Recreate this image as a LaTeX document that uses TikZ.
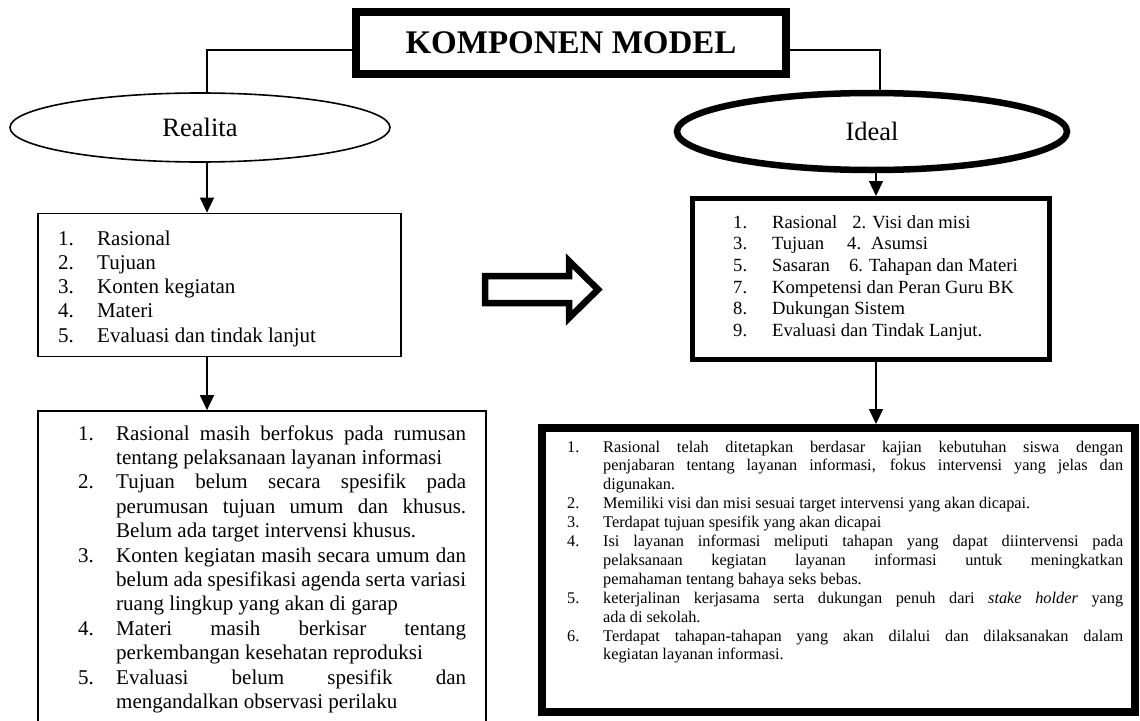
\documentclass[tikz,border=0pt]{standalone}
\usepackage{fontspec}
\setmainfont{Liberation Serif}
\usetikzlibrary{shapes.geometric,arrows.meta,calc}
\newcommand\numitem[2]{\par\hangindent=#1\hangafter=1\noindent\makebox[#1][l]{#2}\ignorespaces}
\newcommand\jsetup{\parindent=0pt\tolerance=10000\hbadness=10000\hyphenpenalty=10000\exhyphenpenalty=10000}
\begin{document}
\begin{tikzpicture}[x=1pt,y=-1pt,
  titlebox/.style={draw, line width=8pt, rectangle, minimum width=430pt, minimum height=62pt, inner sep=0pt, font=\fontsize{33}{40}\selectfont\bfseries},
  ellthin/.style={draw, ellipse, line width=1.6pt, inner sep=0pt, font=\fontsize{26.5}{32}\selectfont},
  ellthick/.style={draw, ellipse, line width=6.5pt, inner sep=0pt, font=\fontsize{26.5}{32}\selectfont},
  boxthin/.style={draw, rectangle, line width=1.8pt, inner sep=0pt},
  boxthick/.style={draw, rectangle, line width=5pt, inner sep=0pt},
  boxheavy/.style={draw, rectangle, line width=8pt, inner sep=0pt},
  conn/.style={line width=1.5pt},
  arr/.style={line width=1.5pt, -{Triangle[width=14pt,length=15pt]}},
  txt/.style={inner sep=0pt, anchor=base west},
  bigarrow/.style={draw, line width=6.5pt, fill=white, miter limit=10, line join=miter}
]
\path[use as bounding box] (0,0) rectangle (1140,720);
\clip (0,0) rectangle (1140,720);

% main nodes
\node[titlebox] (title) at (571,43) {KOMPONEN MODEL};
\node[ellthin, minimum width=380pt, minimum height=69pt] (realita) at (200,127.5) {\raisebox{-2.5pt}{Realita}};
\node[ellthick, minimum width=390pt, minimum height=77pt] (ideal) at (872,131.5) {\raisebox{-2.5pt}{Ideal}};

\node[boxthin, minimum width=363pt, minimum height=143pt] (lbox1) at (219.5,285) {};
\node[boxthick, minimum width=357pt, minimum height=161pt] (rbox1) at (871,279) {};
\node[boxthin, minimum width=448pt, minimum height=340pt] (lbox2) at (262,581) {};
\node[boxheavy, minimum width=593pt, minimum height=284pt] (rbox2) at (838.5,570) {};

% connectors
\coordinate (jl) at (207,50);
\coordinate (jr) at (880,50);
\coordinate (cl) at (207,0);
\coordinate (cr) at (876,0);
\draw[conn] (title.west |- jl) -- (jl) -- (jl |- realita.north);
\draw[conn] (title.east |- jr) -- (jr) -- (jr |- ideal.north);
\draw[arr] (cl |- realita.south) -- (cl |- lbox1.north);
\draw[arr] (cl |- lbox1.south) -- (cl |- lbox2.north);
\draw[arr] (cr |- ideal.south) -- (cr |- rbox1.north);
\draw[arr] (cr |- rbox1.south) -- (cr |- rbox2.north);

% big hollow arrow
\draw[bigarrow] (485,276) -- (569,276) -- (569,261) -- (598,289.5) -- (569,318) -- (569,303) -- (485,303) -- cycle;

% texts
\node[txt] (l1txt) at (58,245) {\parbox[t]{340pt}{\fontsize{21}{24.3}\selectfont
\makebox[39pt][l]{1.}Rasional\\
\makebox[39pt][l]{2.}Tujuan\\
\makebox[39pt][l]{3.}Konten kegiatan\\
\makebox[39pt][l]{4.}Materi\\
\makebox[39pt][l]{5.}Evaluasi dan tindak lanjut}};

\node[txt] (r1txt) at (733,228) {\parbox[t]{310pt}{\fontsize{18.6}{21.7}\selectfont
\makebox[39pt][l]{1.}Rasional\hspace{15pt}2. Visi dan misi\\
\makebox[39pt][l]{3.}Tujuan\hspace{23pt}4.\hspace{10pt}Asumsi\\
\makebox[39pt][l]{5.}Sasaran\hspace{19pt}6. Tahapan dan Materi\\
\makebox[39pt][l]{7.}Kompetensi dan Peran Guru BK\\
\makebox[39pt][l]{8.}Dukungan Sistem\\
\makebox[39pt][l]{9.}Evaluasi dan Tindak Lanjut.}};

\node[txt] (l2txt) at (78,440) {\parbox[t]{388pt}{\fontsize{21}{24.4}\selectfont\jsetup
\numitem{38pt}{1.}Rasional masih berfokus pada rumusan\break tentang pelaksanaan layanan informasi
\numitem{38pt}{2.}Tujuan belum secara spesifik pada\break perumusan tujuan umum dan khusus.\break Belum ada target intervensi khusus.
\numitem{38pt}{3.}Konten kegiatan masih secara umum dan\break belum ada spesifikasi agenda serta variasi\break ruang lingkup yang akan di garap
\numitem{38pt}{4.}Materi masih berkisar tentang\break perkembangan kesehatan reproduksi
\numitem{38pt}{5.}Evaluasi belum spesifik dan\break mengandalkan observasi perilaku\par}};

\node[txt] (r2txt) at (567,452) {\parbox[t]{556pt}{\fontsize{16.3}{18.9}\selectfont\jsetup
\numitem{36pt}{1.}Rasional telah ditetapkan berdasar kajian kebutuhan siswa dengan\break penjabaran tentang layanan informasi, fokus intervensi yang jelas dan\break digunakan.
\numitem{36pt}{2.}Memiliki visi dan misi sesuai target intervensi yang akan dicapai.
\numitem{36pt}{3.}Terdapat tujuan spesifik yang akan dicapai
\numitem{36pt}{4.}Isi layanan informasi meliputi tahapan yang dapat diintervensi pada\break pelaksanaan kegiatan layanan informasi untuk meningkatkan\break pemahaman tentang bahaya seks bebas.
\numitem{36pt}{5.}keterjalinan kerjasama serta dukungan penuh dari \textit{stake holder} yang\break ada di sekolah.
\numitem{36pt}{6.}Terdapat tahapan-tahapan yang akan dilalui dan dilaksanakan dalam\break kegiatan layanan informasi.\par}};
\end{tikzpicture}
\end{document}
